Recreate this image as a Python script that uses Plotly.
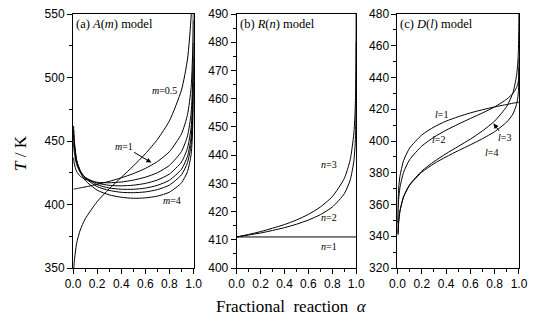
import plotly.graph_objects as go

# ---------------- data ----------------
# Panel (a): A(m) model
alpha_a = [0.005, 0.01, 0.03, 0.06, 0.1, 0.2, 0.3, 0.4, 0.5, 0.6, 0.7, 0.8, 0.9, 0.95, 0.98, 0.995, 0.999]
T_m05 = [345.8, 354.4, 369.4, 379.9, 388.5, 402.2, 412.3, 421.3, 430.3, 439.9, 451.2, 465.9, 490.2, 514.6, 548.4, 605.0, 683.5]
T_m1 = [412.1, 412.2, 412.5, 413.1, 413.8, 415.9, 418.2, 421.0, 424.3, 428.4, 433.8, 441.6, 455.7, 470.8, 492.2, 528.7, 578.5]
T_m15 = [436.8, 432.5, 426.0, 422.3, 419.9, 417.5, 417.1, 417.7, 419.2, 421.5, 425.0, 430.8, 441.8, 454.1, 472.0, 502.9, 545.1]
T_m2 = [448.6, 441.8, 431.5, 425.5, 421.4, 416.9, 415.1, 414.7, 415.2, 416.6, 419.3, 424.0, 433.5, 444.5, 460.7, 488.8, 527.3]
T_m25 = [455.0, 446.5, 433.9, 426.5, 421.5, 415.6, 413.0, 412.0, 412.0, 412.9, 415.1, 419.1, 427.8, 438.0, 453.1, 479.6, 515.9]
T_m3 = [458.6, 449.0, 434.8, 426.6, 420.9, 414.1, 411.1, 409.6, 409.3, 409.9, 411.7, 415.3, 423.4, 433.0, 447.5, 472.8, 507.6]
T_m4 = [461.9, 451.0, 434.9, 425.5, 419.1, 411.3, 407.6, 405.7, 404.9, 405.2, 406.6, 409.7, 417.1, 426.0, 439.5, 463.4, 496.2]

# Panel (b): R(n) model
alpha_b = [0.0, 0.1, 0.2, 0.3, 0.4, 0.5, 0.6, 0.7, 0.8, 0.9, 0.95, 0.98, 0.99, 0.995, 0.998, 0.999, 0.9999]
T_n2 = [411.0, 411.7, 412.4, 413.3, 414.3, 415.5, 417.0, 418.9, 421.6, 426.3, 431.2, 437.8, 442.9, 448.1, 455.2, 460.7, 480.1]
T_n3 = [411.0, 411.9, 412.9, 414.1, 415.4, 417.0, 419.0, 421.6, 425.3, 431.7, 438.4, 447.5, 454.6, 462.0, 472.1, 480.1, 508.6]
alpha_n1 = [0.0, 1.0]
T_n1 = [411.0, 411.0]

# Panel (c): D(l) model
alpha_c12 = [0.001, 0.005, 0.01, 0.02, 0.05, 0.1, 0.2, 0.3, 0.4, 0.5, 0.6, 0.7, 0.8, 0.9, 0.95, 0.98, 0.99, 0.995, 0.999, 0.9999]
T_l1 = [348.1, 363.3, 370.3, 377.6, 387.6, 395.5, 403.8, 408.8, 412.5, 415.3, 417.7, 419.7, 421.5, 423.0, 423.8, 424.2, 424.3, 424.35, 424.4, 424.4]
T_l2 = [342.0, 356.7, 363.4, 370.4, 380.2, 388.2, 396.8, 402.4, 406.8, 410.6, 414.2, 417.7, 421.5, 426.4, 430.0, 433.7, 436.0, 438.0, 441.8, 446.1]
alpha_c34 = [0.004, 0.01, 0.02, 0.05, 0.1, 0.2, 0.3, 0.4, 0.5, 0.6, 0.7, 0.8, 0.9, 0.95, 0.98, 0.99, 0.995, 0.999, 0.9999]
T_l3 = [341.0, 349.2, 355.7, 364.9, 372.5, 381.1, 387.0, 392.0, 396.6, 401.2, 406.4, 412.6, 421.9, 430.4, 441.2, 449.1, 457.0, 475.8, 504.4]
T_l4 = [341.0, 349.1, 355.6, 364.7, 372.1, 380.3, 385.7, 390.0, 393.9, 397.6, 401.5, 405.9, 412.0, 417.0, 423.0, 427.1, 431.0, 439.8, 452.0]

x_ticks = [0.0, 0.2, 0.4, 0.6, 0.8, 1.0]
x_ticklabels = ["0.0", "0.2", "0.4", "0.6", "0.8", "1.0"]

# ---------------- figure ----------------
fig = go.Figure()
line = dict(color="black", width=1, shape="spline", smoothing=0.6)

for T in [T_m05, T_m1, T_m15, T_m2, T_m25, T_m3, T_m4]:
    fig.add_trace(go.Scatter(x=alpha_a, y=T, mode="lines", line=line, xaxis="x", yaxis="y", showlegend=False))
fig.add_trace(go.Scatter(x=alpha_n1, y=T_n1, mode="lines", line=line, xaxis="x2", yaxis="y2", showlegend=False))
for T in [T_n2, T_n3]:
    fig.add_trace(go.Scatter(x=alpha_b, y=T, mode="lines", line=line, xaxis="x2", yaxis="y2", showlegend=False))
for T in [T_l1, T_l2]:
    fig.add_trace(go.Scatter(x=alpha_c12, y=T, mode="lines", line=line, xaxis="x3", yaxis="y3", showlegend=False))
for T in [T_l3, T_l4]:
    fig.add_trace(go.Scatter(x=alpha_c34, y=T, mode="lines", line=line, xaxis="x3", yaxis="y3", showlegend=False))

tickfont = dict(family="Liberation Sans, Arial", size=12, color="black")
minor = dict(ticks="outside", ticklen=3, tickcolor="black", tickwidth=1)

def xax(dom, anchor):
    return dict(domain=dom, anchor=anchor, range=[0, 1], tickvals=x_ticks, ticktext=x_ticklabels,
                ticks="outside", ticklen=5, tickwidth=1, tickcolor="black",
                minor=dict(dtick=0.1, **minor), showline=True, linecolor="black", linewidth=1,
                mirror=True, showgrid=False, zeroline=False, tickfont=tickfont, fixedrange=True)

def yax(rng, dtick, anchor):
    return dict(range=rng, anchor=anchor, dtick=dtick, tick0=rng[0], ticks="outside", ticklen=5, tickwidth=1,
                tickcolor="black", minor=dict(dtick=dtick / 2, **minor), showline=True, linecolor="black",
                linewidth=1, mirror=True, showgrid=False, zeroline=False, tickfont=tickfont, fixedrange=True)

fig.update_layout(
    width=535, height=326,
    margin=dict(l=73, r=7, t=12, b=58),
    paper_bgcolor="white", plot_bgcolor="white",
    xaxis=xax([0, 0.2703], "y"),
    xaxis2=xax([0.367, 0.635], "y2"),
    xaxis3=xax([0.7275, 1.0], "y3"),
    yaxis=yax([350, 550], 50, "x"),
    yaxis2=yax([400, 490], 10, "x2"),
    yaxis3=yax([320, 480], 20, "x3"),
)

serif = "Liberation Serif, Times New Roman, serif"
ann = []
# panel titles
for xr, yr, txt, ytop in [("x", "y", "(a) <i>A</i>(<i>m</i>) model", 550),
                          ("x2", "y2", "(b) <i>R</i>(<i>n</i>) model", 490),
                          ("x3", "y3", "(c) <i>D</i>(<i>l</i>) model", 480)]:
    ann.append(dict(xref=xr, yref=yr, x=0.0, y=ytop, text=txt, showarrow=False, xanchor="left", yanchor="top",
                    xshift=1, yshift=-1, font=dict(family=serif, size=12.5, color="black")))

lab = dict(family=serif, size=10, color="black")
ann += [
    dict(xref="x", yref="y", x=0.76, y=490, text="<i>m</i>=0.5", showarrow=False, font=lab),
    dict(xref="x", yref="y", x=0.65, y=433, ax=0.42, ay=446, axref="x", ayref="y", text="<i>m</i>=1",
         showarrow=True, arrowhead=2, arrowsize=1, arrowwidth=1, arrowcolor="black", font=lab),
    dict(xref="x", yref="y", x=0.82, y=403, text="<i>m</i>=4", showarrow=False, font=lab),
    dict(xref="x2", yref="y2", x=0.77, y=436.5, text="<i>n</i>=3", showarrow=False, font=lab),
    dict(xref="x2", yref="y2", x=0.77, y=418, text="<i>n</i>=2", showarrow=False, font=lab),
    dict(xref="x2", yref="y2", x=0.77, y=407.5, text="<i>n</i>=1", showarrow=False, font=lab),
    dict(xref="x3", yref="y3", x=0.36, y=417, text="<i>l</i>=1", showarrow=False, font=lab),
    dict(xref="x3", yref="y3", x=0.34, y=401, text="<i>l</i>=2", showarrow=False, font=lab),
    dict(xref="x3", yref="y3", x=0.79, y=411, ax=0.88, ay=402, axref="x3", ayref="y3", text="<i>l</i>=3",
         showarrow=True, arrowhead=2, arrowsize=1, arrowwidth=1, arrowcolor="black", font=lab),
    dict(xref="x3", yref="y3", x=0.77, y=392.5, text="<i>l</i>=4", showarrow=False, font=lab),
    # axis titles
    dict(xref="paper", yref="paper", x=-0.1165, y=0.453, xanchor="center", yanchor="middle",
         text="<i>T</i> / K", textangle=-90, showarrow=False,
         font=dict(family=serif, size=17, color="black")),
    dict(xref="paper", yref="paper", x=0.49, y=-0.152, xanchor="center", yanchor="middle",
         text="Fractional  reaction  <i>α</i>", showarrow=False,
         font=dict(family=serif, size=17, color="black")),
]
fig.update_layout(annotations=ann)

fig.write_html("out.html")
